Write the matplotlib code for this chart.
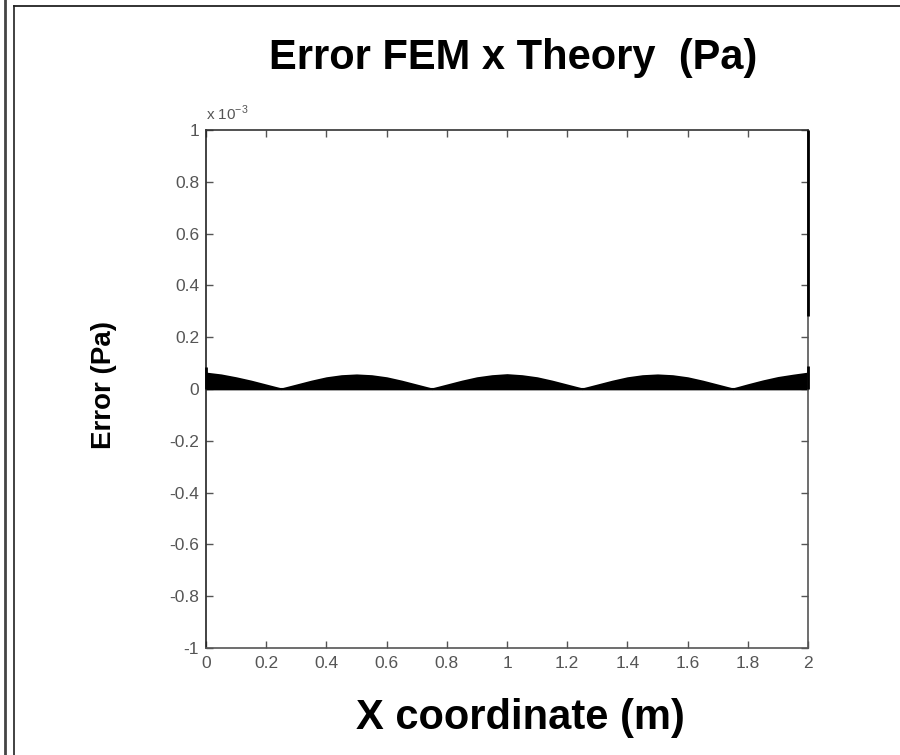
import matplotlib
matplotlib.use("Agg")
import matplotlib.pyplot as plt
from matplotlib.lines import Line2D

plt.rcParams['font.family'] = ['Liberation Sans', 'DejaVu Sans']

# Data (error in units of 1e-3 Pa)
x_coord = [0.00, 0.05, 0.10, 0.15, 0.20, 0.25, 0.30, 0.35, 0.40, 0.45,
           0.50, 0.55, 0.60, 0.65, 0.70, 0.75, 0.80, 0.85, 0.90, 0.95,
           1.00, 1.05, 1.10, 1.15, 1.20, 1.25, 1.30, 1.35, 1.40, 1.45,
           1.50, 1.55, 1.60, 1.65, 1.70, 1.75, 1.80, 1.85, 1.90, 1.95, 2.00]
err_e3 = [0.062, 0.055, 0.044, 0.031, 0.016, 0.001, 0.016, 0.031, 0.044, 0.052,
          0.055, 0.052, 0.044, 0.031, 0.016, 0.001, 0.016, 0.031, 0.044, 0.052,
          0.056, 0.052, 0.044, 0.031, 0.016, 0.001, 0.016, 0.031, 0.044, 0.052,
          0.055, 0.052, 0.044, 0.031, 0.016, 0.001, 0.017, 0.032, 0.045, 0.054, 0.062]
# end spikes (x, low, high) in 1e-3 Pa
spike_x = [0.0, 2.0, 2.0]
spike_lo = [0.0, 0.0, 0.28]
spike_hi = [0.085, 0.09, 1.0]

xticks = [0, 0.2, 0.4, 0.6, 0.8, 1, 1.2, 1.4, 1.6, 1.8, 2]
xticklabels = ['0', '0.2', '0.4', '0.6', '0.8', '1', '1.2', '1.4', '1.6', '1.8', '2']
yticks = [-1, -0.8, -0.6, -0.4, -0.2, 0, 0.2, 0.4, 0.6, 0.8, 1]
yticklabels = ['-1', '-0.8', '-0.6', '-0.4', '-0.2', '0', '0.2', '0.4', '0.6', '0.8', '1']

W, H = 900, 755
fig = plt.figure(figsize=(9, 7.55), dpi=100)
ax = fig.add_axes([206 / W, 1 - 648 / H, (808 - 206) / W, (648 - 130) / H])

ax.fill_between(x_coord, 0, err_e3, color='black', linewidth=1.2, edgecolor='black')
ax.plot(x_coord, [0] * len(x_coord), color='black', linewidth=1.5)
ax.vlines(spike_x, spike_lo, spike_hi, color='black', linewidth=2, clip_on=False, zorder=5)

ax.set_xlim(0, 2)
ax.set_ylim(-1, 1)
ax.set_xticks(xticks)
ax.set_xticklabels(xticklabels)
ax.set_yticks(yticks)
ax.set_yticklabels(yticklabels)
ax.tick_params(direction='in', length=5, width=1, colors='#555555', labelsize=12.5,
               top=True, right=True, pad=5)
ax.tick_params(axis='x', pad=6)
for s in ax.spines.values():
    s.set_color('#555555')
    s.set_linewidth(1.2)
ax.spines['left'].set_color('#222222')
ax.spines['top'].set_color('#333333')

fig.text(206 / W, 1 - 113 / H, r'x 10$^{\mathregular{-3}}$', fontsize=11, color='#555555',
         ha='left', va='center')

fig.text(513 / W, 1 - 58 / H, 'Error FEM x Theory  (Pa)', fontsize=30, fontweight='bold',
         ha='center', va='center')
fig.text(520 / W, 1 - 718 / H, 'X coordinate (m)', fontsize=30, fontweight='bold',
         ha='center', va='center')
fig.text(104 / W, 1 - 385 / H, 'Error (Pa)', fontsize=20, fontweight='bold',
         ha='center', va='center', rotation=90)

# frame lines
fig.add_artist(Line2D([5 / W, 5 / W], [0, 1], color='#444444', linewidth=2, transform=fig.transFigure))
fig.add_artist(Line2D([13.5 / W, 13.5 / W], [0, 1 - 6 / H], color='#333333', linewidth=1.3, transform=fig.transFigure))
fig.add_artist(Line2D([13.5 / W, 1], [1 - 6 / H, 1 - 6 / H], color='#222222', linewidth=1.3, transform=fig.transFigure))

fig.savefig('out.png', dpi=100)
